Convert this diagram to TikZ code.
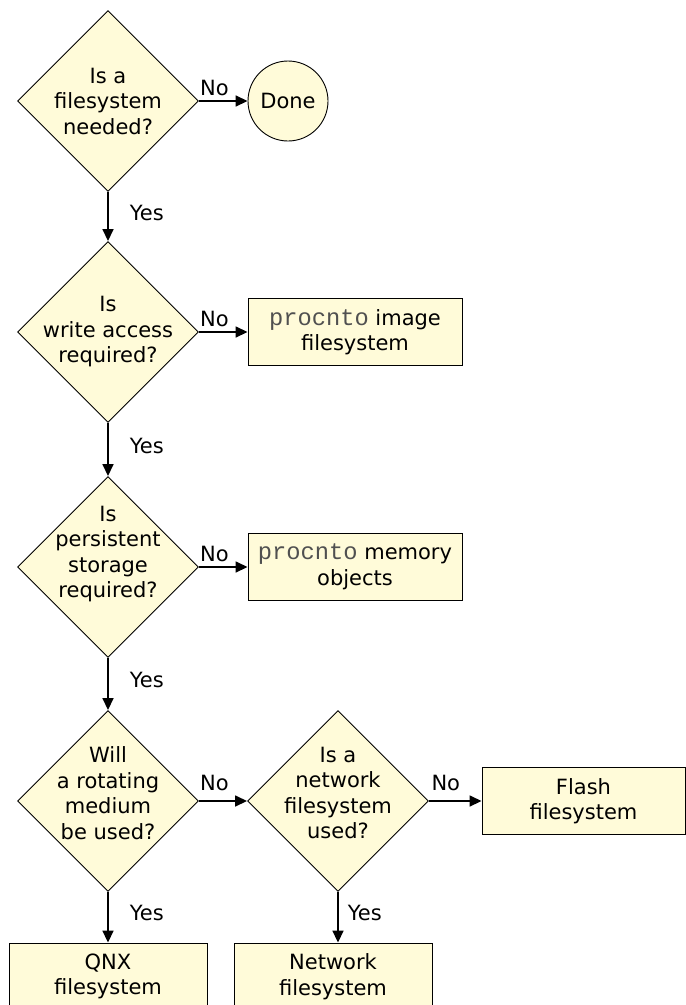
\documentclass[tikz,border=0pt]{standalone}
\usepackage{fontspec}
\setmainfont{DejaVu Sans}
\setmonofont{Liberation Mono}[Scale=1.13]
\usepackage{tikz}
\usetikzlibrary{arrows.meta, shapes.geometric}
\definecolor{cream}{RGB}{255,251,217}
\definecolor{codegray}{RGB}{80,80,80}
\newcommand{\utility}[1]{\textcolor{codegray}{\texttt{#1}}}
\tikzstyle{every node}=[font=\fontsize{21}{25.5}\selectfont]
\tikzstyle{decision}=[diamond, aspect=1, draw, fill=cream, line width=0.9pt, minimum width=181pt, minimum height=181pt, inner sep=0pt]
\tikzstyle{question}=[align=center, inner sep=0pt]
\tikzstyle{outcome}=[rectangle, draw, fill=cream, line width=0.9pt, minimum width=214pt, minimum height=67pt, inner sep=0pt, align=center]
\tikzstyle{terminal}=[circle, draw, fill=cream, line width=0.9pt, minimum size=80pt, inner sep=0pt]
\tikzstyle{arrow}=[draw=black, line width=1.6pt, -{Triangle[length=12pt, width=11pt]}]
\tikzstyle{yeslabel}=[anchor=west, inner sep=0pt, xshift=21pt, yshift=4pt]
\tikzstyle{nolabel}=[pos=0.32, anchor=south, inner sep=4pt]

\begin{document}
\begin{tikzpicture}[x=1pt, y=-1pt]
		   \useasboundingbox (0,0) rectangle (686,1005);
		   \begin{scope}
			   \node (fsneeded) at (108,101)[decision] {};
			   \node (fsneededtext) at (fsneeded)[question] {Is a\\filesystem\\needed?};
			   \node (done) at (288,101)[terminal] {Done};
			   \node (writeaccess) at (108,332)[decision] {};
			   \node (writeaccesstext) at (writeaccess)[question] {Is\\write access\\required?};
			   \node (imagefs) at (355,332)[outcome] {\utility{procnto} image\\filesystem};
			   \node (persistent) at (108,567)[decision] {};
			   \node (persistenttext) at ([yshift=13pt]persistent)[question] {Is\\persistent\\storage\\required?};
			   \node (memobjects) at (355,567)[outcome] {\utility{procnto} memory\\objects};
			   \node (rotating) at (108,801)[decision] {};
			   \node (rotatingtext) at ([yshift=8pt]rotating)[question] {Will\\a rotating\\medium\\be used?};
			   \node (network) at (338,801)[decision] {};
			   \node (networktext) at ([yshift=8pt]network)[question] {Is a\\network\\filesystem\\used?};
			   \node (flashfs) at (583.5,801)[outcome, minimum width=203pt] {Flash\\filesystem};
			   \node (qnxfs) at (108,976.5)[outcome, minimum width=198pt] {QNX\\filesystem};
			   \node (netfs) at (333,976.5)[outcome, minimum width=198pt] {Network\\filesystem};
		   \end{scope}
		   \begin{scope}
			   \path [arrow] (fsneeded) edge node[nolabel] (no1) {No} (done);
			   \path [arrow] (fsneeded) edge node[yeslabel] (yes1) {Yes} (writeaccess);
			   \path [arrow] (writeaccess) edge node[nolabel] (no2) {No} (imagefs);
			   \path [arrow] (writeaccess) edge node[yeslabel] (yes2) {Yes} (persistent);
			   \path [arrow] (persistent) edge node[nolabel] (no3) {No} (memobjects);
			   \path [arrow] (persistent) edge node[yeslabel] (yes3) {Yes} (rotating);
			   \path [arrow] (rotating) edge node[nolabel, yshift=5pt] (no4) {No} (network);
			   \path [arrow] (rotating) edge node[yeslabel] (yes4) {Yes} (qnxfs);
			   \path [arrow] (network) edge node[nolabel, yshift=5pt] (no5) {No} (flashfs);
			   \path [arrow] (network) edge node[yeslabel, xshift=-12pt] (yes5) {Yes} (network.south |- netfs.north);
		   \end{scope}
	   \end{tikzpicture}
\end{document}
